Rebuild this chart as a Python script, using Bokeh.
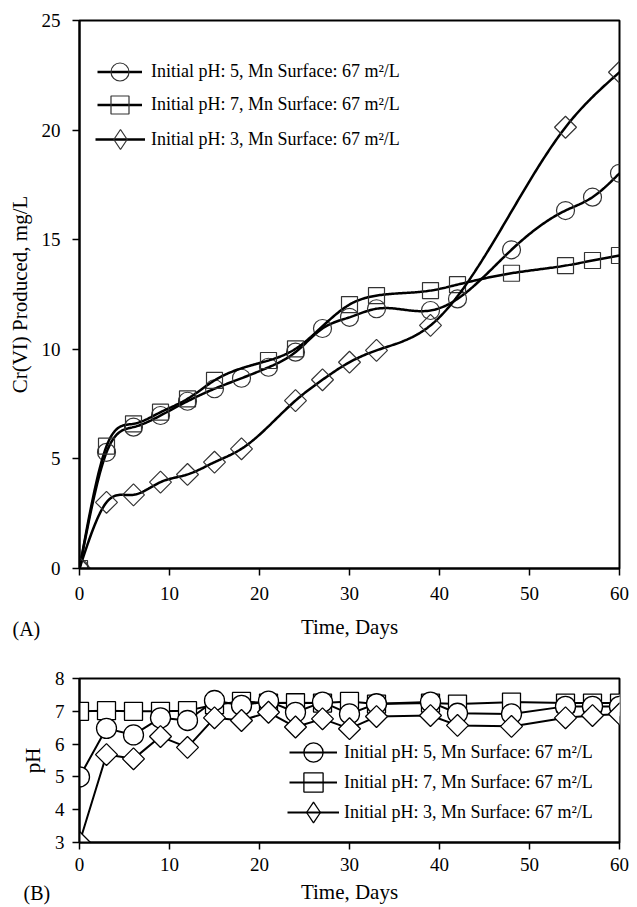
import numpy as np
from bokeh.plotting import figure
from bokeh.layouts import column
from bokeh.models import Legend, LegendItem, FixedTicker, Range1d, Title
from bokeh.embed import file_html
from bokeh.resources import INLINE

FONT = "Liberation Serif"

# ---------- Panel A: Cr(VI) produced ----------
days_a_ph5 = [0, 3, 6, 9, 12, 15, 18, 21, 24, 27, 30, 33, 39, 42, 48, 54, 57, 60]
cr_ph5 = [0, 5.3, 6.45, 6.98, 7.63, 8.2, 8.68, 9.18, 9.87, 10.95, 11.46, 11.85, 11.77, 12.3, 14.54, 16.33, 16.94, 18.03]
days_a_ph7 = [0, 3, 6, 9, 12, 15, 21, 24, 30, 33, 39, 42, 48, 54, 57, 60]
cr_ph7 = [0, 5.58, 6.6, 7.13, 7.74, 8.58, 9.49, 10.02, 12.04, 12.45, 12.68, 12.95, 13.47, 13.82, 14.05, 14.28]
days_a_ph3 = [0, 3, 6, 9, 12, 15, 18, 24, 27, 30, 33, 39, 54, 60]
cr_ph3 = [0, 3.02, 3.36, 3.94, 4.29, 4.85, 5.46, 7.66, 8.61, 9.41, 9.95, 11.09, 20.13, 22.64]

# ---------- Panel B: pH ----------
days_b = [0, 3, 6, 9, 12, 15, 18, 21, 24, 27, 30, 33, 39, 42, 48, 54, 57, 60]
ph_ph5 = [5.0, 6.48, 6.28, 6.8, 6.72, 7.33, 7.18, 7.31, 6.97, 7.28, 6.92, 7.23, 7.28, 6.94, 6.92, 7.15, 7.15, 7.15]
ph_ph7 = [7.0, 7.02, 7.0, 7.0, 7.02, 7.2, 7.3, 7.25, 7.26, 7.25, 7.3, 7.22, 7.25, 7.22, 7.28, 7.25, 7.25, 7.25]
ph_ph3 = [3.0, 5.68, 5.55, 6.23, 5.9, 6.8, 6.72, 6.97, 6.52, 6.77, 6.47, 6.84, 6.87, 6.57, 6.54, 6.8, 6.87, 6.92]

labels = ["Initial pH: 5, Mn Surface: 67 m\u00b2/L",
          "Initial pH: 7, Mn Surface: 67 m\u00b2/L",
          "Initial pH: 3, Mn Surface: 67 m\u00b2/L"]

x_ticks = [0, 10, 20, 30, 40, 50, 60]
ya_ticks = [0, 5, 10, 15, 20, 25]
yb_ticks = [3, 4, 5, 6, 7, 8]


def natural_spline(x, y, n=400):
    x = np.asarray(x, float)
    y = np.asarray(y, float)
    k = len(x)
    h = np.diff(x)
    A = np.zeros((k, k))
    r = np.zeros(k)
    A[0, 0] = 1
    A[-1, -1] = 1
    for i in range(1, k - 1):
        A[i, i - 1] = h[i - 1]
        A[i, i] = 2 * (h[i - 1] + h[i])
        A[i, i + 1] = h[i]
        r[i] = 3 * ((y[i + 1] - y[i]) / h[i] - (y[i] - y[i - 1]) / h[i - 1])
    c = np.linalg.solve(A, r)
    b = (y[1:] - y[:-1]) / h - h * (2 * c[:-1] + c[1:]) / 3
    d = (c[1:] - c[:-1]) / (3 * h)
    xs = np.linspace(x[0], x[-1], n)
    idx = np.clip(np.searchsorted(x, xs, side="right") - 1, 0, k - 2)
    dx = xs - x[idx]
    ys = y[idx] + b[idx] * dx + c[idx] * dx ** 2 + d[idx] * dx ** 3
    return xs, ys


def style(p, yticks):
    p.xgrid.visible = False
    p.ygrid.visible = False
    p.outline_line_color = "black"
    p.outline_line_width = 2
    p.outline_line_alpha = 1
    p.background_fill_color = "white"
    p.border_fill_color = "white"
    p.xaxis.ticker = FixedTicker(ticks=x_ticks)
    p.yaxis.ticker = FixedTicker(ticks=yticks)
    for ax in (p.xaxis[0], p.yaxis[0]):
        ax.axis_line_width = 2
        ax.axis_line_color = "black"
        ax.major_tick_line_width = 1.5
        ax.major_tick_line_color = "black"
        ax.major_tick_out = 7
        ax.major_tick_in = 0
        ax.minor_tick_out = 0
        ax.minor_tick_in = 0
        ax.major_label_text_font = FONT
        ax.major_label_text_font_size = "19px"
        ax.major_label_text_color = "black"
        ax.axis_label_text_font = FONT
        ax.axis_label_text_font_size = "21px"
        ax.axis_label_text_font_style = "normal"
        ax.axis_label_text_color = "black"


def one_legend(p, label, renderers, vx, vy, box, standoff):
    leg = Legend(items=[LegendItem(label=label, renderers=renderers)],
                 location=(vx, vy), glyph_width=box, glyph_height=box,
                 spacing=0, padding=0, margin=0, label_standoff=standoff,
                 label_text_font=FONT, label_text_font_size="18px",
                 label_text_color="black",
                 border_line_alpha=0, background_fill_alpha=0)
    p.add_layout(leg)


def panel_tag(p, text, offset, standoff):
    p.add_layout(Title(text=text, align="left", offset=offset, standoff=standoff,
                       vertical_align="top", text_font=FONT, text_font_size="20px",
                       text_font_style="normal", text_color="black"), "below")


# ---------------- Panel A ----------------
p1 = figure(width=637, height=646, x_range=Range1d(0, 60), y_range=Range1d(0, 25),
            output_backend="svg", toolbar_location=None,
            min_border_left=79, min_border_right=11, min_border_top=20, min_border_bottom=78)
style(p1, ya_ticks)
p1.xaxis.axis_label = "Time, Days"
p1.yaxis.axis_label = "Cr(VI) Produced, mg/L"
p1.xaxis.major_label_standoff = 11
p1.xaxis.axis_label_standoff = 12
p1.yaxis.major_label_standoff = 12
p1.yaxis.axis_label_standoff = 7

series_a = [(days_a_ph5, cr_ph5, "circle", 18, 0.0),
            (days_a_ph7, cr_ph7, "square", 16, 0.0),
            (days_a_ph3, cr_ph3, "square", 15.5, np.pi / 4)]
rend_a = []
for xd, yd, mk, sz, ang in series_a:
    sx, sy = natural_spline(xd, yd)
    ln = p1.line(sx, sy, line_color="black", line_width=2.5)
    sc = p1.scatter(xd, yd, marker=mk, size=sz, angle=ang, fill_alpha=0,
                    line_color="#333333", line_width=1.2)
    rend_a.append((ln, sc))
# legend-only diamond symbol (no visible point)
dia_a = p1.scatter([np.nan], [np.nan], marker="diamond", size=18, fill_alpha=0,
                   line_color="#333333", line_width=1.2)

one_legend(p1, labels[0], [rend_a[0][0], rend_a[0][1]], 18, 568 - 72 - 22, 45, 9)
one_legend(p1, labels[1], [rend_a[1][0], rend_a[1][1]], 18, 568 - 105 - 22, 45, 9)
one_legend(p1, labels[2], [rend_a[2][0], dia_a], 16, 568 - 139 - 25, 50, 6)

panel_tag(p1, "(A)", -67, -48)

# ---------------- Panel B ----------------
p2 = figure(width=637, height=261, x_range=Range1d(0, 60), y_range=Range1d(3, 8),
            output_backend="svg", toolbar_location=None,
            min_border_left=70, min_border_right=18, min_border_top=32, min_border_bottom=65)
style(p2, yb_ticks)
p2.xaxis.axis_label = "Time, Days"
p2.yaxis.axis_label = "pH"
p2.xaxis.major_label_standoff = 8
p2.xaxis.axis_label_standoff = 6
p2.yaxis.major_label_standoff = 8
p2.yaxis.axis_label_standoff = 7

series_b = [(ph_ph5, "circle", 20, 0.0),
            (ph_ph7, "square", 18, 0.0),
            (ph_ph3, "square", 15.5, np.pi / 4)]
lines_b = [p2.line(days_b, yd, line_color="black", line_width=2) for yd, _, _, _ in series_b]
marks_b = {}
for i in (1, 0, 2):
    yd, mk, sz, ang = series_b[i]
    marks_b[i] = p2.scatter(days_b, yd, marker=mk, size=sz, angle=ang,
                            fill_color="white", line_color="black", line_width=1.3)
dia_b = p2.scatter([np.nan], [np.nan], marker="diamond", size=20, fill_color="white",
                   line_color="black", line_width=1.3)

one_legend(p2, labels[0], [marks_b[0], lines_b[0]], 210, 842 - 752 - 24, 48, 7)
one_legend(p2, labels[1], [marks_b[1], lines_b[1]], 210, 842 - 782 - 24, 48, 7)
one_legend(p2, labels[2], [dia_b, lines_b[2]], 208, 842 - 812 - 26, 52, 5)

panel_tag(p2, "(B)", -56, -50)

layout = column(p1, p2, spacing=0)
open("out.html", "w").write(file_html(layout, INLINE))
